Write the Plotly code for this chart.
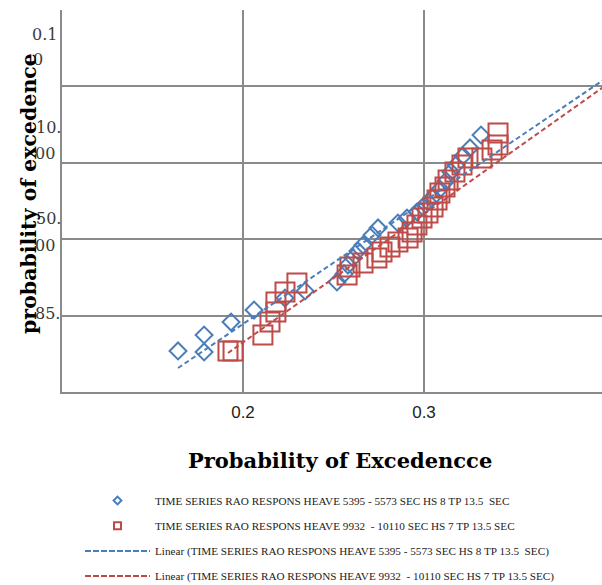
import plotly.graph_objects as go

# ---- data ----
blue_x = [0.1641, 0.1785, 0.1785, 0.1934, 0.2061, 0.2232, 0.2343, 0.2519, 0.2558, 0.2580,
          0.2608, 0.2635, 0.2663, 0.2713, 0.2746, 0.2856, 0.2906, 0.2961, 0.2994, 0.3022,
          0.3050, 0.3088, 0.3122, 0.3149, 0.3177, 0.3215, 0.3254, 0.3315]
blue_y = [0.537, 0.746, 0.524, 0.916, 1.073, 1.230, 1.322, 1.440, 1.545, 1.662,
          1.754, 1.846, 1.924, 2.055, 2.147, 2.212, 2.277, 2.356, 2.421, 2.487,
          2.552, 2.657, 2.762, 2.880, 2.971, 3.089, 3.194, 3.364]

red_x = [0.1917, 0.1945, 0.2110, 0.2149, 0.2182, 0.2182, 0.2232, 0.2298, 0.2575, 0.2591,
         0.2663, 0.2740, 0.2768, 0.2812, 0.2856, 0.2912, 0.2934, 0.2961, 0.2989, 0.3022,
         0.3050, 0.3072, 0.3088, 0.3116, 0.3133, 0.3171, 0.3210, 0.3243, 0.3320, 0.3376,
         0.3409, 0.3409]
red_y = [0.537, 0.537, 0.746, 0.916, 1.047, 1.178, 1.309, 1.427, 1.531, 1.636,
         1.688, 1.754, 1.832, 1.898, 1.963, 2.016, 2.094, 2.186, 2.277, 2.343,
         2.421, 2.513, 2.605, 2.683, 2.775, 2.880, 2.971, 3.063, 3.063, 3.168,
         3.233, 3.390]

blue_trend_x = [0.1641, 0.4]
blue_trend_y = [0.314, 4.098]
red_trend_x = [0.1917, 0.4]
red_trend_y = [0.510, 4.007]

x_tick_vals = [0.2, 0.3]
x_tick_text = ["0.2", "0.3"]
y_grid_vals = [0, 1, 2, 3, 4, 5]
# y label pieces (text, y position)
y_label_text = ["0.1", "0", "10.", "00", "50.", "00", "85."]
y_label_pos = [4.68, 4.35, 3.46, 3.12, 2.27, 1.92, 1.03]
y_label_xpx = [44, 38, 48, 45, 48, 45, 47]

names = [
    "TIME SERIES RAO RESPONS HEAVE 5395 - 5573 SEC HS 8 TP 13.5  SEC",
    "TIME SERIES RAO RESPONS HEAVE 9932  - 10110 SEC HS 7 TP 13.5 SEC",
    "Linear (TIME SERIES RAO RESPONS HEAVE 5395 - 5573 SEC HS 8 TP 13.5  SEC)",
    "Linear (TIME SERIES RAO RESPONS HEAVE 9932  - 10110 SEC HS 7 TP 13.5 SEC)",
]

BLUE = "#4a7ebb"
RED = "#be4b48"

W, H = 602, 585
L, R, T, B = 62, 0, 10, 193
PW = W - L - R
PH = H - T - B

fig = go.Figure()

# data traces
fig.add_trace(go.Scatter(x=blue_x, y=blue_y, mode="markers", showlegend=False,
                         marker=dict(symbol="diamond-open", size=13, color=BLUE,
                                     line=dict(width=2, color=BLUE))))
fig.add_trace(go.Scatter(x=red_x, y=red_y, mode="markers", showlegend=False,
                         marker=dict(symbol="square-open", size=19, color=RED,
                                     line=dict(width=2, color=RED))))
fig.add_trace(go.Scatter(x=blue_trend_x, y=blue_trend_y, mode="lines", showlegend=False,
                         line=dict(color=BLUE, width=2, dash="5px,3px")))
fig.add_trace(go.Scatter(x=red_trend_x, y=red_trend_y, mode="lines", showlegend=False,
                         line=dict(color=RED, width=2, dash="5px,3px")))

# legend entries
fig.add_trace(go.Scatter(x=[None], y=[None], mode="markers", name=names[0], legendgroup="a",
                         marker=dict(symbol="diamond-open", size=6, color=BLUE,
                                     line=dict(width=2, color=BLUE))))
fig.add_trace(go.Scatter(x=[None], y=[None], mode="markers", name=names[1], legendgroup="b",
                         marker=dict(symbol="square-open", size=7, color=RED,
                                     line=dict(width=2, color=RED))))
fig.add_trace(go.Scatter(x=[None], y=[None], mode="lines", name=names[2], legendgroup="c",
                         line=dict(color=BLUE, width=2, dash="6px,2px")))
fig.add_trace(go.Scatter(x=[None], y=[None], mode="lines", name=names[3], legendgroup="d",
                         line=dict(color=RED, width=2, dash="6px,2px")))

annotations = []
for t, yv, xp in zip(y_label_text, y_label_pos, y_label_xpx):
    annotations.append(dict(text=t, x=(xp - L) / PW, xref="paper", y=yv, yref="y",
                            showarrow=False, xanchor="center", yanchor="middle",
                            font=dict(family="DejaVu Serif", size=16, color="#3a3a3a")))
annotations.append(dict(text="probability of excedence", textangle=-90,
                        x=(29 - L) / PW, xref="paper", y=(H - B - 194) / PH, yref="paper",
                        showarrow=False, xanchor="center", yanchor="middle",
                        font=dict(family="DejaVu Serif", size=20.5, color="#000000",
                                  weight="bold")))
annotations.append(dict(text="Probability of Excedencce",
                        x=(340 - L) / PW, xref="paper", y=(H - B - 460) / PH, yref="paper",
                        showarrow=False, xanchor="center", yanchor="middle",
                        font=dict(family="DejaVu Serif", size=21, color="#000000",
                                  weight="bold")))

fig.update_layout(
    width=W, height=H,
    margin=dict(l=L, r=R, t=T, b=B, pad=0, autoexpand=False),
    paper_bgcolor="white", plot_bgcolor="white",
    xaxis=dict(range=[0.1, 0.39834], tickvals=x_tick_vals, ticktext=x_tick_text,
               showgrid=True, gridcolor="#8a8a8a", gridwidth=2,
               showline=True, linecolor="#8a8a8a", linewidth=2,
               zeroline=False, ticks="outside", ticklen=4, tickcolor="rgba(0,0,0,0)",
               tickfont=dict(family="Liberation Sans", size=17, color="#222222")),
    yaxis=dict(range=[0, 5], tickvals=y_grid_vals, showticklabels=False,
               showgrid=True, gridcolor="#8a8a8a", gridwidth=2,
               showline=True, linecolor="#8a8a8a", linewidth=2,
               zeroline=False, ticks=""),
    showlegend=True,
    legend=dict(x=80 / W, xref="container", xanchor="left",
                y=1 - 486 / H, yref="container", yanchor="top",
                itemwidth=65, tracegroupgap=6.2, bgcolor="rgba(0,0,0,0)",
                font=dict(family="Liberation Serif", size=11.2, color="#222222")),
    annotations=annotations,
)

fig.write_html("out.html")
